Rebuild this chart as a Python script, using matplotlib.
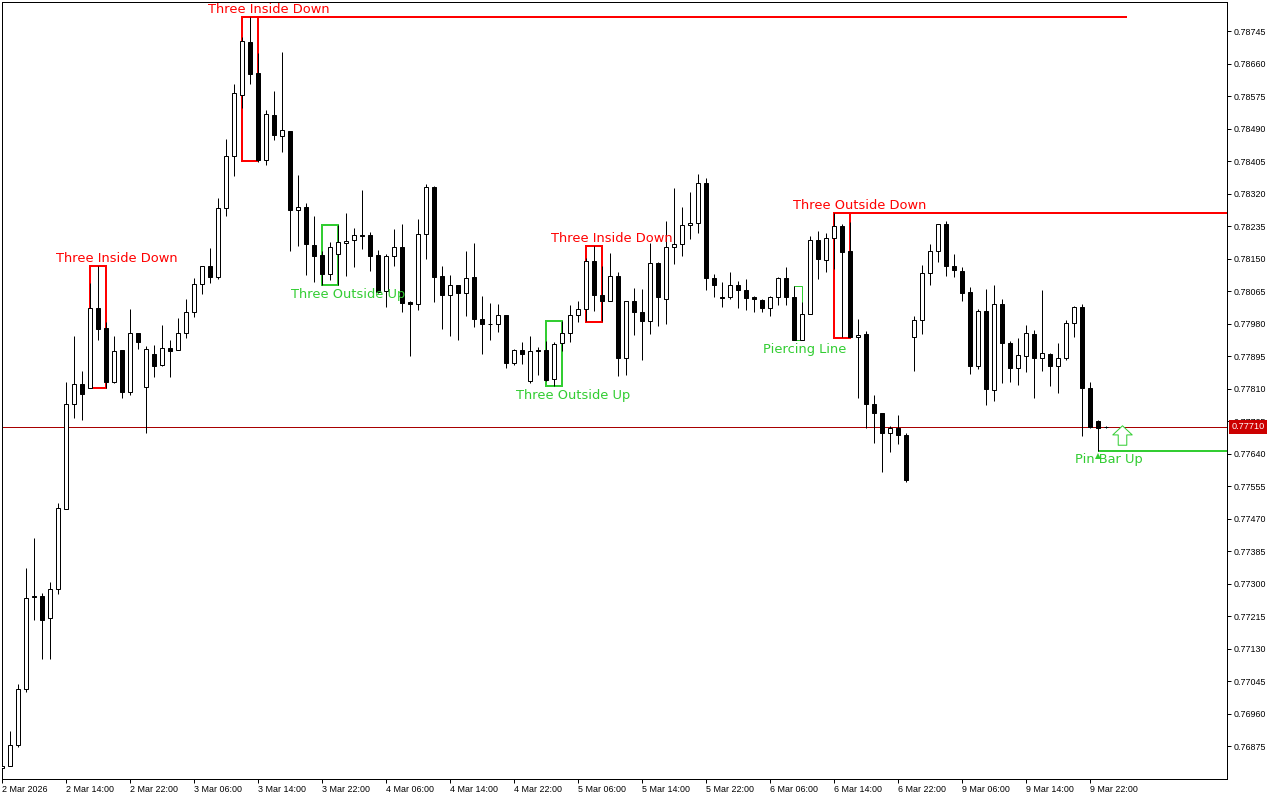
import numpy as np
import matplotlib
matplotlib.use("Agg")
import matplotlib.pyplot as plt
from matplotlib.patches import Rectangle
from matplotlib.path import Path

# H1 candles, prices in 1e-5 units
opens = [76817,76823,76878,77024,77267,77268,77210,77286,77495,77770,
         77822,77812,78021,77968,77826,77912,77800,77955,77813,77901,
         77871,77916,77911,77955,78010,78084,78131,78103,78282,78418,
         78579,78716,78635,78409,78525,78471,78484,78276,78285,78186,
         78160,78110,78162,78191,78199,78212,78212,78160,78065,78157,
         78181,78037,78031,78214,78338,78104,78056,78082,78059,78103,
         77993,77980,77978,78003,77876,77912,77829,77912,77912,77835,
         77929,77955,78002,78018,78144,78055,78039,78104,77889,78039,
         78010,77988,78138,78043,78180,78188,78238,78243,78348,78100,
         78050,78049,78082,78069,78050,78042,78022,78050,78099,78050,
         77937,78004,78199,78146,78204,78235,78170,77944,77954,77771,
         77746,77694,77708,77689,77945,77989,78112,78170,78241,78131,
         78118,78063,77868,78013,77806,78031,77929,77863,77894,77953,
         77889,77901,77868,77889,77982,78023,77812,77726,77710]
closes = [76824,76878,77024,77262,77265,77206,77286,77498,77770,77822,
          77797,78021,77967,77826,77908,77800,77955,77933,77914,77868,
          77916,77907,77955,78010,78084,78131,78103,78282,78418,78583,
          78719,78634,78409,78528,78472,78486,78276,78285,78187,78158,
          78109,78180,78193,78197,78212,78210,78158,78063,78157,78180,
          78035,78030,78214,78337,78101,78056,78081,78059,78099,77991,
          77978,77978,78002,77876,77911,77901,77908,77907,77833,77927,
          77955,78002,78018,78144,78054,78039,78104,77889,78039,78009,
          77988,78138,78049,78180,78188,78238,78243,78348,78098,78082,
          78046,78081,78069,78048,78043,78022,78050,78099,78049,77938,
          78005,78199,78149,78204,78235,78166,77944,77951,77769,77745,
          77695,77708,77688,77570,77989,78112,78170,78240,78130,78119,
          78059,77868,78013,77808,78031,77928,77863,77898,77955,77891,
          77903,77868,77890,77982,78023,77811,77709,77706,77710]
highs = [76824,76915,77038,77342,77418,77276,77305,77511,77828,77948,
         77857,78087,78131,77985,77948,77912,78019,77955,77922,77924,
         77977,77938,77995,78045,78099,78131,78178,78308,78463,78607,
         78730,78783,78688,78539,78589,78690,78484,78369,78295,78262,
         78171,78194,78239,78270,78231,78330,78220,78173,78163,78228,
         78241,78040,78254,78346,78341,78131,78108,78082,78171,78192,
         78053,78035,78032,78003,77914,77933,77948,77920,77935,77933,
         77988,78029,78038,78152,78184,78130,78165,78115,78039,78074,
         78071,78192,78142,78249,78335,78286,78325,78372,78361,78110,
         78090,78115,78092,78097,78052,78044,78052,78103,78129,78079,
         78037,78210,78223,78217,78270,78241,78245,77993,77961,77794,
         77747,77713,77742,77694,78000,78134,78189,78241,78249,78163,
         78128,78076,78019,78071,78082,78045,77935,77943,77976,77963,
         78069,77903,77930,77989,78026,78032,77828,77729,77713]
lows = [76817,76823,76872,77016,77206,77104,77102,77272,77495,77732,
        77727,77812,77936,77812,77824,77786,77792,77914,77693,77841,
        77868,77839,77911,77941,77996,78058,78085,78096,78262,78365,
        78545,78606,78403,78396,78459,78428,78169,78182,78106,78090,
        78082,78095,78082,78105,78129,78176,78118,78061,78024,78131,
        78009,77896,78016,78150,78037,77967,77948,77938,78001,77972,
        77901,77938,77959,77865,77871,77873,77825,77846,77831,77816,
        77909,77933,77983,77986,78012,77986,78038,77842,77845,77949,
        77884,77954,77973,77978,78137,78158,78200,78218,78067,78050,
        78024,78043,78021,78016,78011,78009,78001,78029,78029,77938,
        77937,78004,78096,78114,78124,77945,77944,77786,77706,77669,
        77593,77643,77664,77565,77857,77954,78082,78142,78105,78103,
        78040,77847,77860,77768,77778,77825,77828,77820,77854,77786,
        77857,77816,77799,77884,77946,77687,77707,77646,77706]

time_labels = ["2 Mar 2026", "2 Mar 14:00", "2 Mar 22:00", "3 Mar 06:00", "3 Mar 14:00",
               "3 Mar 22:00", "4 Mar 06:00", "4 Mar 14:00", "4 Mar 22:00", "5 Mar 06:00",
               "5 Mar 14:00", "5 Mar 22:00", "6 Mar 06:00", "6 Mar 14:00", "6 Mar 22:00",
               "9 Mar 06:00", "9 Mar 14:00", "9 Mar 22:00"]
time_ticks = list(range(0, 144, 8))

price_labels = ["0.76875", "0.76960", "0.77045", "0.77130", "0.77215", "0.77300", "0.77385",
                "0.77470", "0.77555", "0.77640", "0.77725", "0.77810", "0.77895", "0.77980",
                "0.78065", "0.78150", "0.78235", "0.78320", "0.78405", "0.78490", "0.78575",
                "0.78660", "0.78745"]

current_price = 77710

# detected patterns
pat_names = ["Three Inside Down", "Three Inside Down", "Three Outside Up", "Three Outside Up",
             "Three Inside Down", "Piercing Line", "Three Outside Down"]
pat_start = [11, 30, 40, 68, 73, 99, 104]
pat_end = [13, 32, 42, 70, 75, 100, 106]
pat_top = [78131, 78783, 78239, 77988, 78184, 78079, 78270]
pat_bottom = [77812, 78405, 78082, 77818, 77985, 77937, 77942]
pat_label_bar = [14.3, 33.3, 43.3, 71.4, 76.25, 100.3, 107.25]
pat_bullish = [False, False, True, True, False, True, False]
pat_line_end = [None, 140.6, None, None, None, None, 153.2]

pin_bar = 137
pin_level = 77648
pin_label_bar = 138.3
arrow_bar = 140
arrow_price = 77688
pin_dot_price = 77633

RED = "#ff0000"
GREEN = "#32cd32"
PX = 0.72  # one pixel in points at dpi 100

o = np.array(opens) / 1e5
c = np.array(closes) / 1e5
h = np.array(highs) / 1e5
l = np.array(lows) / 1e5
x = np.arange(len(o))

fig = plt.figure(figsize=(12.8, 8), dpi=100)
ax = fig.add_axes([2.0 / 1280, 1 - 779.0 / 800, 1225 / 1280, 777 / 800])
ax.set_xlim(0, 153.125)
ax.set_ylim(0.76789, 0.78821)

# wicks and bodies
ax.vlines(x, l, h, color="black", lw=PX, zorder=3)
colors = ["white" if cc > oo else "black" for oo, cc in zip(o, c)]
ax.bar(x, np.abs(c - o), bottom=np.minimum(o, c), width=0.5, color=colors,
       edgecolor="black", linewidth=PX, zorder=4)

# pattern boxes
for i in range(len(pat_names)):
    col = GREEN if pat_bullish[i] else RED
    thin = pat_names[i] == "Piercing Line"
    top = pat_top[i] / 1e5
    bottom = pat_bottom[i] / 1e5
    ax.add_patch(Rectangle((pat_start[i], bottom), pat_end[i] - pat_start[i], top - bottom,
                           fill=False, edgecolor=col, lw=PX if thin else 2 * PX, zorder=2))
    if pat_line_end[i] is not None:
        ax.plot([pat_end[i], pat_line_end[i]], [top, top], color=col, lw=2 * PX, zorder=2,
                solid_capstyle="butt")
    if pat_bullish[i]:
        yy, dy = bottom, -9.5 * PX
    else:
        yy, dy = top, 7 * PX
    ax.annotate(pat_names[i], (pat_label_bar[i], yy), xytext=(0, dy), textcoords="offset points",
                ha="center", va="center", color=col, fontsize=9.4, zorder=6, annotation_clip=False)

# pin bar signal
ax.plot([pin_bar, 153.2], [pin_level / 1e5] * 2, color=GREEN, lw=2 * PX, zorder=2,
        solid_capstyle="butt")
ax.plot([pin_bar], [pin_dot_price / 1e5], marker="^", ms=4, color=GREEN, mew=0, zorder=5)
ax.annotate("Pin Bar Up", (pin_label_bar, pin_level / 1e5), xytext=(0, -9 * PX),
            textcoords="offset points", ha="center", va="center", color=GREEN,
            fontsize=9.4, zorder=6)
arrow = Path([(-0.22, -0.5), (0.22, -0.5), (0.22, 0.03), (0.5, 0.03), (0, 0.5), (-0.5, 0.03),
              (-0.22, 0.03), (-0.22, -0.5)], closed=True)
ax.plot([arrow_bar], [arrow_price / 1e5], marker=arrow, ms=14, mfc="white", mec=GREEN,
        mew=PX, zorder=5)

# current price line and tag
ax.axhline(current_price / 1e5, color="#a80000", lw=PX, zorder=1.5)
ax.text(1.0038, current_price / 1e5, "%.5f" % (current_price / 1e5), transform=ax.get_yaxis_transform(),
        ha="left", va="center", color="white", fontsize=6.6, family="Liberation Sans", zorder=7,
        clip_on=False, bbox=dict(facecolor="#cc0000", edgecolor="none", pad=1.8))

# axes
for sp in ax.spines.values():
    sp.set_linewidth(PX)
    sp.set_color("black")
ax.yaxis.tick_right()
ax.set_yticks([float(p) for p in price_labels])
ax.set_yticklabels(price_labels, family="Liberation Sans")
ax.tick_params(axis="y", length=3, width=PX, pad=1.5, labelsize=6.4)
ax.set_xticks(time_ticks)
ax.set_xticklabels(time_labels, family="Liberation Sans", ha="left")
ax.tick_params(axis="x", length=3, width=PX, pad=1.5, labelsize=6.4)

fig.savefig("out.png", dpi=100)
